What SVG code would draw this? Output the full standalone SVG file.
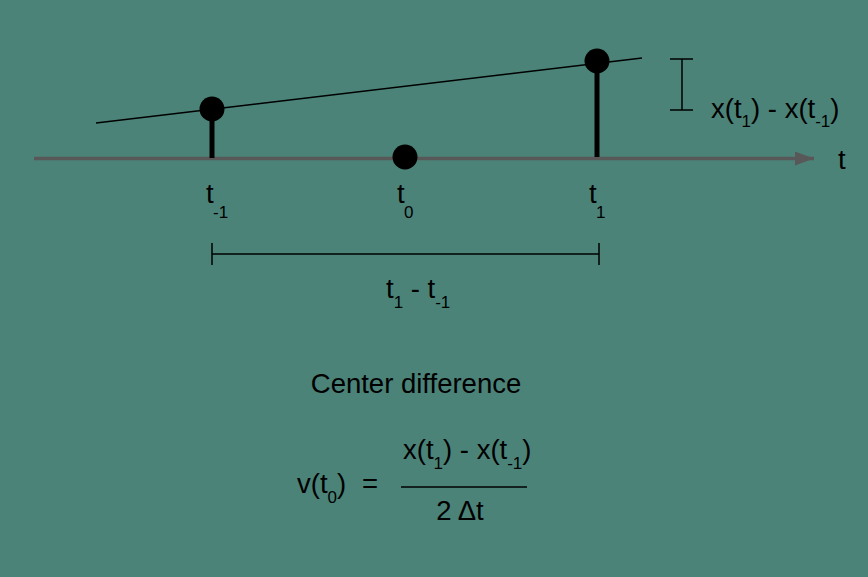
<svg xmlns="http://www.w3.org/2000/svg" width="868" height="577" viewBox="0 0 868 577">
<defs>
<style>
text{font-family:"Liberation Sans",Arial,sans-serif;fill:#000;font-size:27.5px}
.sub{font-size:17px}
.thin{stroke:#000;stroke-width:1.5;fill:none}
.stem{stroke:#000;stroke-width:5}
</style>
<marker id="arr" viewBox="0 0 19 14" refX="19" refY="7" markerWidth="19" markerHeight="14" markerUnits="userSpaceOnUse" orient="auto"><path d="M0,0 L19,7 L0,14 z" fill="#585858"/></marker>
</defs>
<rect width="868" height="577" fill="#4B8378"/>
<g id="connectors">
<line x1="34" y1="158.5" x2="814" y2="158.5" stroke="#585858" stroke-width="3.3" marker-end="url(#arr)"/>
<line class="thin" x1="96" y1="123" x2="642" y2="58"/>
<line class="stem" x1="212" y1="109" x2="212" y2="158"/>
<line class="stem" x1="597" y1="61" x2="597" y2="157"/>
<path class="thin" d="M670,59H693M682,59V110M670,110H693"/>
<path class="thin" d="M212,243V265M212,254H599M599,243V265"/>
<line class="thin" x1="401" y1="487" x2="527" y2="487"/>
</g>
<g id="p-1"><circle cx="212" cy="109" r="12.5"/></g>
<g id="p0"><circle cx="405" cy="157" r="12.5"/></g>
<g id="p1"><circle cx="597" cy="61" r="12.5"/></g>
<g id="labels">
<text x="711" y="118">x(t<tspan class="sub" dy="9">1</tspan><tspan dy="-9">) - x(t</tspan><tspan class="sub" dy="9">-1</tspan><tspan dy="-9">)</tspan></text>
<text x="838" y="169">t</text>
<text x="206" y="203">t</text><text class="sub" x="213" y="218">-1</text>
<text x="397" y="203">t</text><text class="sub" x="404" y="218">0</text>
<text x="589" y="203">t</text><text class="sub" x="596" y="218">1</text>
<text x="386" y="298">t<tspan class="sub" dy="10">1</tspan><tspan dy="-10"> - t</tspan><tspan class="sub" dy="10">-1</tspan></text>
<text x="416" y="393" text-anchor="middle">Center difference</text>
<text x="297" y="493">v(t<tspan class="sub" dy="10">0</tspan><tspan dy="-10">)</tspan></text>
<text x="362" y="493">=</text>
<text x="403" y="459">x(t<tspan class="sub" dy="10">1</tspan><tspan dy="-10">) - x(t</tspan><tspan class="sub" dy="10">-1</tspan><tspan dy="-10">)</tspan></text>
<text x="460" y="520" text-anchor="middle">2 Δt</text>
</g>
</svg>
